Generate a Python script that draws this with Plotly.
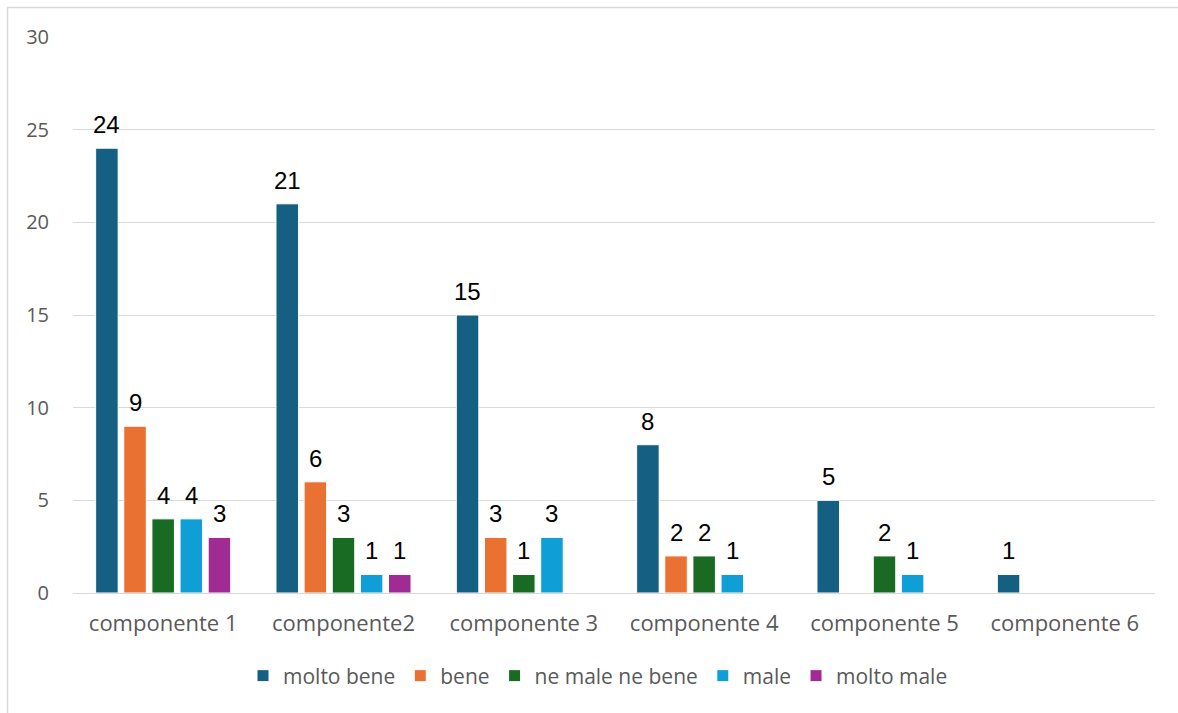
import plotly.graph_objects as go

categories = ["componente 1", "componente2", "componente 3", "componente 4", "componente 5", "componente 6"]
molto_bene = [24, 21, 15, 8, 5, 1]
bene = [9, 6, 3, 2, None, None]
ne_male_ne_bene = [4, 3, 1, 2, 2, None]
male = [4, 1, 3, 1, 1, None]
molto_male = [3, 1, None, None, None, None]

series = [
    ("molto bene", molto_bene, "#156082"),
    ("bene", bene, "#E97132"),
    ("ne male ne bene", ne_male_ne_bene, "#196B24"),
    ("male", male, "#0F9ED5"),
    ("molto male", molto_male, "#A02B93"),
]

BARGAP = 0.22
BARGROUPGAP = 0.2

fig = go.Figure()
for name, vals, color in series:
    fig.add_trace(go.Bar(
        name=name,
        x=categories,
        y=vals,
        marker=dict(color=color, line=dict(color="white", width=1)),
        cliponaxis=False,
    ))

# value labels above each bar, placed at the grouped-bar slot centres
slot = (1 - BARGAP) / len(series)
annotations = []
for i, (name, vals, color) in enumerate(series):
    for j, v in enumerate(vals):
        if v is None:
            continue
        annotations.append(dict(
            x=j - (1 - BARGAP) / 2 + slot * (i + 0.5),
            y=v, xref="x", yref="y",
            text=str(v), showarrow=False,
            yanchor="bottom", yshift=8,
            font=dict(family="Liberation Sans, Arial, sans-serif", size=24, color="#000000"),
        ))

W, H = 1178, 713
ml, mr, mt, mb = 73, 23, 37, 120
pw, ph = W - ml - mr, H - mt - mb

def px_x(x):
    return (x - ml) / pw

def px_y(y):
    return (H - mb - y) / ph

fig.update_layout(
    width=W, height=H,
    margin=dict(l=ml, r=mr, t=mt, b=mb, autoexpand=False),
    paper_bgcolor="white",
    plot_bgcolor="white",
    barmode="group",
    bargap=BARGAP,
    bargroupgap=BARGROUPGAP,
    showlegend=True,
    legend=dict(
        orientation="h",
        x=px_x(598), xanchor="center",
        y=px_y(676), yanchor="middle",
        font=dict(family="Open Sans, sans-serif", size=21, color="#595959"),
        itemwidth=30,
        traceorder="normal",
    ),
    xaxis=dict(
        showgrid=False,
        showline=True, linecolor="#d9d9d9", linewidth=1,
        ticks="outside", ticklen=11, tickcolor="rgba(0,0,0,0)",
        tickangle=0,
        tickfont=dict(family="Open Sans, sans-serif", size=22, color="#595959"),
    ),
    yaxis=dict(
        range=[0, 30],
        dtick=5,
        showgrid=True, gridcolor="#d9d9d9", gridwidth=1,
        zeroline=False,
        showline=False,
        ticks="outside", ticklen=19, tickcolor="rgba(0,0,0,0)",
        tickfont=dict(family="Open Sans, sans-serif", size=20, color="#595959"),
    ),
    annotations=annotations,
    shapes=[
        dict(type="line", xref="paper", yref="paper",
             x0=px_x(7), x1=px_x(W + 5), y0=px_y(7.5), y1=px_y(7.5),
             line=dict(color="#d9d9d9", width=1.5)),
        dict(type="line", xref="paper", yref="paper",
             x0=px_x(7.5), x1=px_x(7.5), y0=px_y(7), y1=px_y(H + 5),
             line=dict(color="#d9d9d9", width=1.5)),
    ],
)

fig.write_html("out.html")
